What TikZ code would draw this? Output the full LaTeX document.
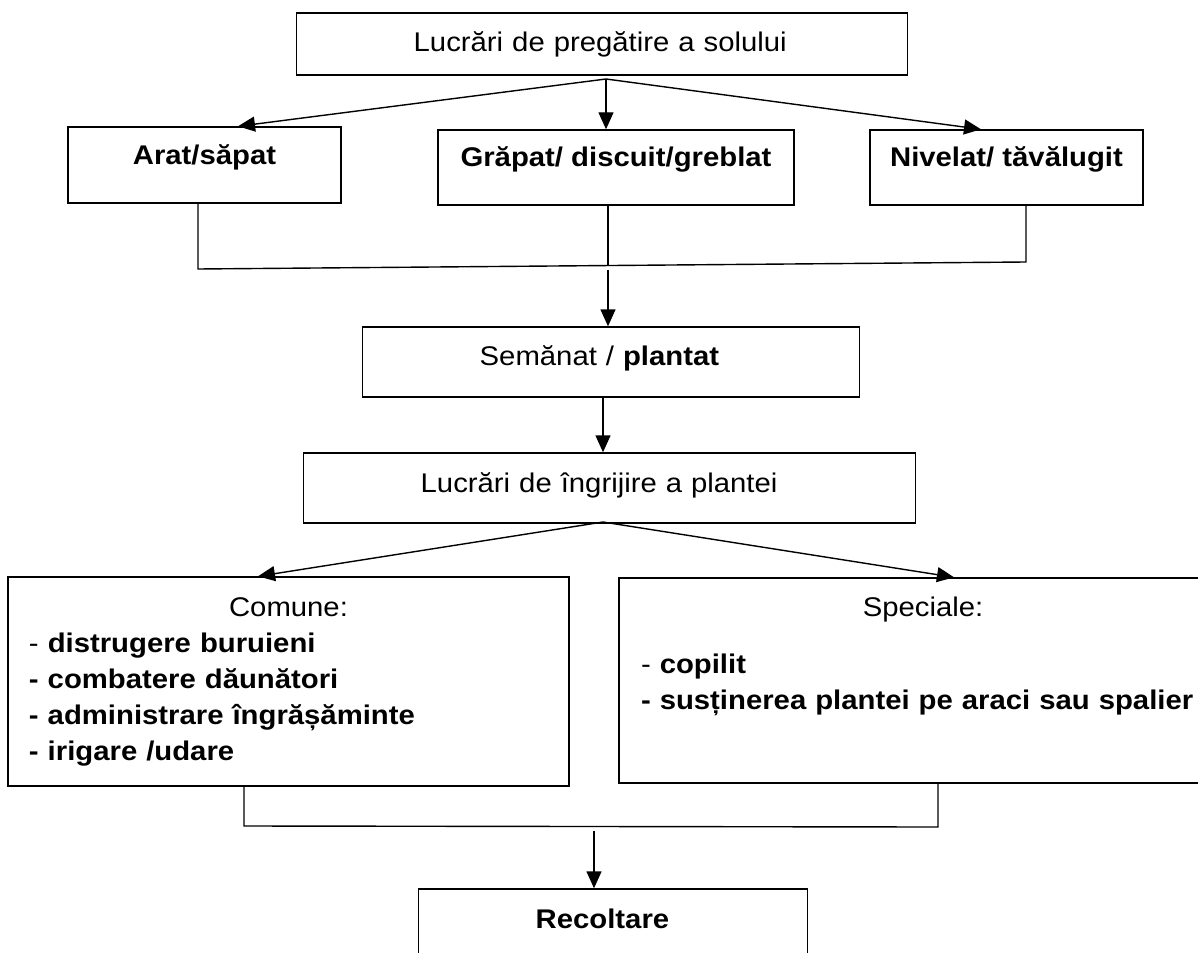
\documentclass[tikz,border=0pt]{standalone}
\usepackage{fontspec}
\setmainfont[FakeStretch=1.085]{Liberation Sans}
\usepackage{tikz}
\usetikzlibrary{arrows.meta}

\begin{document}
\begin{tikzpicture}[x=0.5pt, y=-0.5pt, >={Triangle[length=8.5pt,width=7.5pt]}, line width=0.7pt,
    font=\fontsize{13.5}{18}\selectfont]
    \tikzstyle{box}=[rectangle, draw, anchor=base, inner xsep=0pt, inner ysep=0pt]
    \tikzstyle{indbox}=[rectangle, draw, anchor=base west, inner xsep=58.5pt, inner ysep=0pt, align=left]
    \tikzstyle{listbox}=[rectangle, draw, anchor=base, inner ysep=0pt, align=left]

    \useasboundingbox (0,0) rectangle (1198,952);

    \node[indbox, text width=188.5pt, text height=19.5pt, text depth=11.5pt] (pregatire) at (296,52) {Lucrări de pregătire a solului};
    \node[box, minimum width=136.5pt, text height=19pt, text depth=19pt] (arat) at (204.5,165) {\textbf{Arat/săpat}};
    \node[box, minimum width=178pt, text height=18.5pt, text depth=19pt] (grapat) at (616,167) {\textbf{Grăpat/ discuit/greblat}};
    \node[box, minimum width=136.5pt, text height=18.5pt, text depth=19pt] (nivelat) at (1006.5,167) {\textbf{Nivelat/ tăvălugit}};
    \node[indbox, text width=131.5pt, text height=19pt, text depth=16pt] (semanat) at (362,365) {Semănat / \textbf{plantat}};
    \node[indbox, text width=189pt, text height=19.5pt, text depth=15.5pt] (ingrijire) at (303,492) {Lucrări de îngrijire a plantei};
    \node[listbox, inner xsep=10.5pt, text width=259.5pt, text height=19.5pt, text depth=85pt] (comune) at (288.5,616)
        {{\centering Comune:\par}
         - \textbf{distrugere buruieni}\\
         \textbf{- combatere dăunători}\\
         \textbf{- administrare îngrășăminte}\\
         \textbf{- irigare /udare}};
    \node[listbox, inner xsep=11pt, text width=282pt, text height=19pt, text depth=83.5pt] (speciale) at (923,616)
        {{\centering Speciale:\par}\vspace{10.5pt}
         - \textbf{copilit}\\
         \textbf{- susținerea plantei pe araci sau spalier}};
    \node[indbox, text width=77.5pt, text height=19.5pt, text depth=19.5pt] (recoltare) at (418,928) {\textbf{Recoltare}};

    % pregatire -> lucrari
    \coordinate (s1) at (606,79);
    \draw[->] (s1) -- ([xshift=16.75pt]arat.north);
    \draw[->] (s1) -- (grapat.north -| s1);
    \draw[->] (s1) -- ([xshift=-12.75pt]nivelat.north);

    \coordinate (j1) at (198,269);
    \coordinate (j2) at (608,265.5);
    \coordinate (j3) at (1026,262);
    \draw (arat.south -| j1) -- (j1) -- (j3) -- (nivelat.south -| j3);
    \draw (grapat.south -| j2) -- (j2);
    \draw[->, shorten <=2pt] (j2) -- (semanat.north -| j2);

    \draw[->] (semanat.south -| 603,0) -- (ingrijire.north -| 603,0);

    % ingrijire -> comune / speciale
    \coordinate (s2) at (603,522);
    \draw[->] (s2) -- ([xshift=-15.25pt]comune.north);
    \draw[->] (s2) -- ([xshift=15.5pt]speciale.north);

    \coordinate (k1) at (244,826);
    \coordinate (k2) at (594,826.5);
    \coordinate (k3) at (938,827);
    \draw (comune.south -| k1) -- (k1) -- (k3) -- (speciale.south -| k3);
    \draw[->, shorten <=2pt] (k2) -- (recoltare.north -| k2);

\end{tikzpicture}
\end{document}
